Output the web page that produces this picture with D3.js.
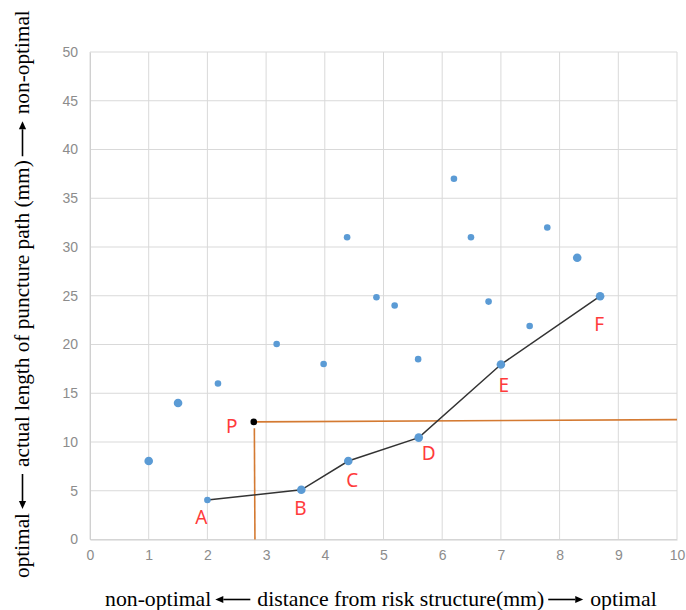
<!DOCTYPE html>
<html><head><meta charset="utf-8">
<script src="https://cdn.jsdelivr.net/npm/d3@7"></script>
<style>body{margin:0;background:#fff}</style>
</head><body>
<svg id="c" width="686" height="610"></svg>
<script>
// scatter of all paths: x = distance (mm), y = length (mm), r = marker size class
const scatterX = [1, 1.5, 2.18, 3.18, 3.98, 4.38, 4.88, 5.19, 5.59, 6.2, 6.49, 6.79, 7.49, 7.79, 8.3];
const scatterY = [8.05, 14, 16, 20.05, 18, 31, 24.85, 24, 18.5, 37, 31, 24.4, 21.9, 32, 28.9];
const scatterBig = [1, 1, 0, 0, 0, 0, 0, 0, 0, 0, 0, 0, 0, 0, 1];
// Pareto frontier A-F
const frontLabels = ["A", "B", "C", "D", "E", "F"];
const frontX = [2.0, 3.6, 4.4, 5.6, 7.0, 8.69];
const frontY = [4.05, 5.1, 8.05, 10.45, 17.95, 24.95];
const frontBig = [0, 1, 1, 1, 1, 1];
// point P and its reference lines
const pointP = {label: "P", x: 2.79, y: 12.06};
const hLineX = [2.79, 10];
const hLineY = [12.06, 12.3];
const vLineX = [2.8, 2.81];
const vLineY = [11.4, 0];
const xTicks = [0,1,2,3,4,5,6,7,8,9,10];
const yTicks = [0,5,10,15,20,25,30,35,40,45,50];
const xTitle = ["non-optimal", "distance from risk structure(mm)", "optimal"];
const yTitle = ["optimal", "actual length of puncture path (mm)", "non-optimal"];

const svg = d3.select("#c");
const L = 90, R = 677, T = 52, B = 539.5;
const x = d3.scaleLinear().domain([0,10]).range([L,R]);
const y = d3.scaleLinear().domain([0,50]).range([B,T]);

// grid
const g = svg.append("g");
g.selectAll(".vx").data(xTicks).join("line")
  .attr("x1", d=>x(d)).attr("x2", d=>x(d)).attr("y1", T).attr("y2", B)
  .attr("stroke", "#d9d9d9").attr("stroke-width", 1);
g.selectAll(".hy").data(yTicks).join("line")
  .attr("y1", d=>y(d)).attr("y2", d=>y(d)).attr("x1", L).attr("x2", R)
  .attr("stroke", "#d9d9d9").attr("stroke-width", 1);

// axes (tick labels only)
const xa = svg.append("g").attr("transform", `translate(0,${B})`)
  .call(d3.axisBottom(x).tickValues(xTicks).tickSize(0).tickPadding(11));
const ya = svg.append("g").attr("transform", `translate(${L},0)`)
  .call(d3.axisLeft(y).tickValues(yTicks).tickSize(0).tickPadding(12));
[xa, ya].forEach(a => {
  a.select(".domain").attr("stroke", "#d0d0d0");
  a.selectAll("text").attr("fill", "#8c8c8c").attr("font-size", 14)
    .attr("font-family", "'Liberation Sans', Arial, sans-serif");
});

// orange reference lines
const orange = "#d47a32";
svg.append("line").attr("x1", x(hLineX[0])).attr("y1", y(hLineY[0]))
  .attr("x2", x(hLineX[1])).attr("y2", y(hLineY[1]))
  .attr("stroke", orange).attr("stroke-width", 1.6);
svg.append("line").attr("x1", x(vLineX[0])).attr("y1", y(vLineY[0]))
  .attr("x2", x(vLineX[1])).attr("y2", y(vLineY[1]))
  .attr("stroke", orange).attr("stroke-width", 1.6);

// frontier line
const front = frontX.map((d,i)=>({x:d, y:frontY[i], l:frontLabels[i], big:frontBig[i]}));
svg.append("path").datum(front)
  .attr("d", d3.line().x(d=>x(d.x)).y(d=>y(d.y)))
  .attr("fill", "none").attr("stroke", "#333").attr("stroke-width", 1.5);

const blue = "#5b9bd5";
const scat = scatterX.map((d,i)=>({x:d, y:scatterY[i], big:scatterBig[i]}));
svg.selectAll(".s").data(scat).join("circle")
  .attr("cx", d=>x(d.x)).attr("cy", d=>y(d.y)).attr("r", d=>d.big?4.3:3.3)
  .attr("fill", blue);
svg.selectAll(".f").data(front).join("circle")
  .attr("cx", d=>x(d.x)).attr("cy", d=>y(d.y)).attr("r", d=>d.big?4.3:3.3)
  .attr("fill", blue);

// P
svg.append("circle").attr("cx", x(pointP.x)).attr("cy", y(pointP.y)).attr("r", 3.3).attr("fill", "#000");

// labels
const red = "#ff3b3b";
const offs = {A:[-6,24], B:[-1,25], C:[4,26], D:[10,22], E:[3,28], F:[-1,35]};
svg.selectAll(".lab").data(front).join("text")
  .attr("x", d=>x(d.x)+offs[d.l][0]).attr("y", d=>y(d.y)+offs[d.l][1])
  .attr("text-anchor", "middle").attr("font-size", 19)
  .attr("font-family", "'Noto Sans', 'Open Sans', sans-serif")
  .attr("fill", red).text(d=>d.l);
svg.append("text").attr("x", x(pointP.x)-22).attr("y", y(pointP.y)+11)
  .attr("text-anchor", "middle").attr("font-size", 19)
  .attr("font-family", "'Noto Sans', 'Open Sans', sans-serif")
  .attr("fill", red).text(pointP.label);

// axis titles: text pieces joined by drawn arrows, fitted to a total length
function title(parts, tx, ty, rot, arrowDirs, total) {
  const grp = svg.append("g").attr("transform", `translate(${tx},${ty}) rotate(${rot})`);
  const arrowLen = 35, gapBefore = 4, gapAfter = 7, mid = -6.5;
  const texts = parts.map(p => grp.append("text").attr("y", 0)
      .attr("font-family", "'Liberation Serif', 'Times New Roman', serif")
      .attr("font-size", 22).attr("fill", "#000").text(p));
  const tw = d3.sum(texts, t => t.node().getComputedTextLength());
  const fixed = (parts.length - 1) * (arrowLen + gapBefore + gapAfter);
  const fs = 22 * (total - fixed) / tw;
  texts.forEach(t => t.attr("font-size", fs));
  let cx = 0;
  texts.forEach((t, i) => {
    t.attr("x", cx);
    cx += t.node().getComputedTextLength();
    if (i < parts.length - 1) {
      const a0 = cx + gapBefore, a1 = a0 + arrowLen;
      const left = arrowDirs[i] < 0;
      const tip = left ? a0 : a1, tail = left ? a1 : a0;
      const hb = left ? tip + 8 : tip - 8;
      grp.append("line").attr("x1", tail).attr("x2", hb).attr("y1", mid).attr("y2", mid)
        .attr("stroke", "#000").attr("stroke-width", 1.6);
      grp.append("path").attr("d", `M${tip},${mid} L${hb},${mid-3.6} L${hb},${mid+3.6} Z`).attr("fill", "#000");
      cx = a1 + gapAfter;
    }
  });
}
title(xTitle, 105, 606, 0, [-1, 1], 552);
title(yTitle, 29, 578, -90, [-1, 1], 568);
</script>
</body></html>
